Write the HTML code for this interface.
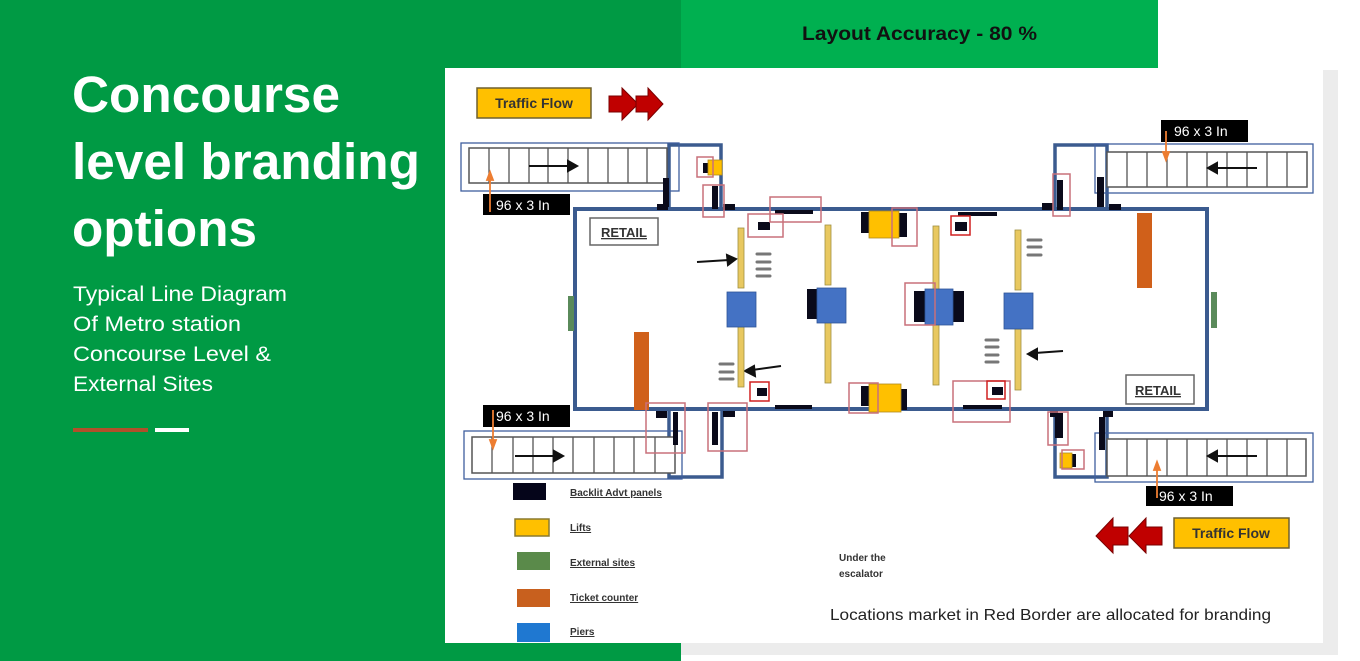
<!DOCTYPE html>
<html><head><meta charset="utf-8"><style>
html,body{margin:0;padding:0;}
body{width:1360px;height:661px;position:relative;overflow:hidden;background:#fff;font-family:"Liberation Sans",Arial,sans-serif;}
</style></head><body>
<svg width="1360" height="661" viewBox="0 0 1360 661" xmlns="http://www.w3.org/2000/svg" style="position:absolute;left:0;top:0">
<rect x="0" y="0" width="681" height="661" fill="#009a44"/>
<rect x="681" y="0" width="477" height="68" fill="#00b050"/>
<rect x="681" y="643" width="657" height="12" fill="#ececec"/>
<rect x="1323" y="70" width="15" height="585" fill="#ececec"/>
<rect x="445" y="68" width="878" height="575" fill="#fff"/>
<text x="802" y="40" textLength="235" lengthAdjust="spacingAndGlyphs" font-family="Liberation Sans,Arial,sans-serif" font-weight="bold" font-size="19" fill="#111">Layout Accuracy - 80 %</text>

<g font-family="Liberation Sans,Arial,sans-serif" fill="#fff">
<text x="72" y="112" font-size="51" font-weight="bold" textLength="268" lengthAdjust="spacingAndGlyphs">Concourse</text>
<text x="72" y="179" font-size="51" font-weight="bold" textLength="348" lengthAdjust="spacingAndGlyphs">level branding</text>
<text x="72" y="246" font-size="51" font-weight="bold" textLength="185" lengthAdjust="spacingAndGlyphs">options</text>
<text x="73" y="301" font-size="21" textLength="214" lengthAdjust="spacingAndGlyphs">Typical Line Diagram</text>
<text x="73" y="331" font-size="21" textLength="168" lengthAdjust="spacingAndGlyphs">Of  Metro station</text>
<text x="73" y="361" font-size="21" textLength="198" lengthAdjust="spacingAndGlyphs">Concourse  Level &amp;</text>
<text x="73" y="391" font-size="21" textLength="140" lengthAdjust="spacingAndGlyphs">External Sites</text>
</g>
<rect x="73" y="428" width="75" height="4" fill="#b0502a"/>
<rect x="155" y="428" width="34" height="4" fill="#fff"/>

<rect x="477" y="88" width="114" height="30" fill="#ffc000" stroke="#6e6030" stroke-width="1.5"/>
<text x="534" y="108" text-anchor="middle" font-size="14" font-weight="bold" fill="#333">Traffic  Flow</text>
<polygon points="609,96 622,96 622,88 638,104 622,120 622,112 609,112" fill="#c00000" stroke="#7a0000" stroke-width="1"/>
<polygon points="636,96 648,96 648,88 663,104 648,120 648,112 636,112" fill="#c00000" stroke="#7a0000" stroke-width="1"/>

<rect x="1174" y="518" width="115" height="30" fill="#ffc000" stroke="#6e6030" stroke-width="1.5"/>
<text x="1231" y="538" text-anchor="middle" font-size="14" font-weight="bold" fill="#333">Traffic  Flow</text>
<polygon points="1162,527 1146,527 1146,518 1129,536 1146,553 1146,545 1162,545" fill="#c00000" stroke="#7a0000" stroke-width="1"/>
<polygon points="1128,527 1113,527 1113,518 1096,536 1113,553 1113,545 1128,545" fill="#c00000" stroke="#7a0000" stroke-width="1"/>

<rect x="575" y="209" width="632" height="200" fill="#fff" stroke="#3b5b8f" stroke-width="4"/>
<g fill="none" stroke="#3b5b8f" stroke-width="3.5">
<polyline points="669,209 669,145 721,145 721,209"/>
<polyline points="1055,209 1055,145 1107,145 1107,209"/>
<polyline points="669,409 669,477 722,477 722,409"/>
<polyline points="1055,409 1055,477 1107,477 1107,409"/>
</g>

<g stroke="#555" stroke-width="1.5" fill="#fff">
<rect x="469" y="148" width="198" height="35"/>
<rect x="1107" y="152" width="200" height="35"/>
<rect x="472" y="437" width="203" height="36"/>
<rect x="1107" y="439" width="199" height="37"/>
</g>
<g stroke="#555" stroke-width="1.3">
<path d="M489 148V183M509 148V183M529 148V183M548 148V183M568 148V183M588 148V183M608 148V183M628 148V183M647 148V183"/>
<path d="M1127 152V187M1147 152V187M1167 152V187M1187 152V187M1207 152V187M1227 152V187M1247 152V187M1267 152V187M1287 152V187"/>
<path d="M492 437V473M513 437V473M533 437V473M553 437V473M573 437V473M594 437V473M614 437V473M634 437V473M655 437V473"/>
<path d="M1127 439V476M1147 439V476M1167 439V476M1187 439V476M1207 439V476M1227 439V476M1247 439V476M1267 439V476M1287 439V476"/>
</g>
<g fill="none" stroke="#3f5f9f" stroke-width="1.3">
<rect x="461" y="143" width="218" height="48"/>
<rect x="1095" y="144" width="218" height="49"/>
<rect x="464" y="431" width="218" height="48"/>
<rect x="1095" y="433" width="218" height="49"/>
</g>
<g stroke="#111" stroke-width="2" fill="#111">
<line x1="529" y1="166" x2="570" y2="166"/><polygon points="577,166 568,161 568,171"/>
<line x1="515" y1="456" x2="556" y2="456"/><polygon points="563,456 554,451 554,461"/>
<line x1="1257" y1="168" x2="1215" y2="168"/><polygon points="1208,168 1217,163 1217,173"/>
<line x1="1257" y1="456" x2="1215" y2="456"/><polygon points="1208,456 1217,451 1217,461"/>
<line x1="697" y1="262" x2="729" y2="260"/><polygon points="736,259 727,255 728,265"/>
<line x1="781" y1="366" x2="752" y2="370"/><polygon points="745,371 754,366 755,376"/>
<line x1="1063" y1="351" x2="1035" y2="353"/><polygon points="1028,354 1037,349 1037,359"/>
</g>

<g font-family="Liberation Sans,Arial,sans-serif" font-size="14" fill="#fff">
<rect x="483" y="194" width="87" height="21" fill="#000"/><text x="496" y="210">96 x 3 In</text>
<rect x="483" y="405" width="87" height="22" fill="#000"/><text x="496" y="421">96 x 3 In</text>
<rect x="1161" y="120" width="87" height="22" fill="#000"/><text x="1174" y="136">96 x 3 In</text>
<rect x="1146" y="486" width="87" height="20" fill="#000"/><text x="1159" y="501">96 x 3 In</text>
</g>
<g stroke="#ed7d31" stroke-width="1.8" fill="#ed7d31">
<line x1="490" y1="212" x2="490" y2="178"/><polygon points="490,172 487,180 493,180"/>
<line x1="493" y1="410" x2="493" y2="442"/><polygon points="493,448 490,440 496,440"/>
<line x1="1166" y1="131" x2="1166" y2="154"/><polygon points="1166,160 1163,152 1169,152"/>
<line x1="1157" y1="498" x2="1157" y2="468"/><polygon points="1157,462 1154,470 1160,470"/>
</g>

<rect x="590" y="218" width="68" height="27" fill="#fff" stroke="#666" stroke-width="1.5"/>
<text x="624" y="237" text-anchor="middle" font-size="13" font-weight="bold" fill="#333" text-decoration="underline">RETAIL</text>
<rect x="1126" y="375" width="68" height="29" fill="#fff" stroke="#666" stroke-width="1.5"/>
<text x="1158" y="395" text-anchor="middle" font-size="13" font-weight="bold" fill="#333" text-decoration="underline">RETAIL</text>

<rect x="634" y="332" width="15" height="78" fill="#d0601a"/>
<rect x="1137" y="213" width="15" height="75" fill="#d0601a"/>
<rect x="568" y="296" width="6" height="35" fill="#5a8a5a"/>
<rect x="1211" y="292" width="6" height="36" fill="#5a8a5a"/>

<g fill="#e8c860" stroke="#a09040" stroke-width="0.8">
<rect x="738" y="228" width="6" height="60"/><rect x="738" y="327" width="6" height="60"/>
<rect x="825" y="225" width="6" height="60"/><rect x="825" y="322" width="6" height="61"/>
<rect x="933" y="226" width="6" height="159"/>
<rect x="1015" y="230" width="6" height="60"/><rect x="1015" y="329" width="6" height="61"/>
</g>
<g fill="#0a0a1a">
<rect x="807" y="289" width="10" height="30"/>
<rect x="914" y="291" width="11" height="31"/><rect x="953" y="291" width="11" height="31"/>
<rect x="861" y="212" width="8" height="21"/><rect x="898" y="213" width="9" height="24"/>
<rect x="861" y="386" width="8" height="20"/><rect x="900" y="389" width="7" height="21"/>
<rect x="775" y="210" width="38" height="4"/><rect x="958" y="212" width="39" height="4"/>
<rect x="775" y="405" width="37" height="4"/><rect x="963" y="405" width="39" height="4"/>
<rect x="758" y="222" width="12" height="8"/><rect x="955" y="222" width="12" height="9"/>
<rect x="757" y="388" width="10" height="8"/><rect x="992" y="387" width="11" height="8"/>
<rect x="663" y="178" width="6" height="29"/><rect x="657" y="204" width="11" height="6"/>
<rect x="712" y="186" width="6" height="23"/><rect x="723" y="204" width="12" height="6"/>
<rect x="703" y="163" width="5" height="10"/>
<rect x="1057" y="180" width="6" height="30"/><rect x="1042" y="203" width="11" height="7"/>
<rect x="1097" y="177" width="7" height="30"/><rect x="1109" y="204" width="12" height="6"/>
<rect x="673" y="412" width="5" height="33"/><rect x="656" y="411" width="11" height="7"/>
<rect x="712" y="412" width="6" height="33"/><rect x="723" y="411" width="12" height="6"/>
<rect x="1055" y="413" width="8" height="25"/><rect x="1050" y="411" width="8" height="6"/>
<rect x="1099" y="417" width="6" height="33"/><rect x="1103" y="411" width="10" height="6"/>
<rect x="1072" y="454" width="4" height="13"/>
</g>
<g fill="#4472c4" stroke="#2f5597" stroke-width="0.8">
<rect x="727" y="292" width="29" height="35"/>
<rect x="817" y="288" width="29" height="35"/>
<rect x="925" y="289" width="28" height="36"/>
<rect x="1004" y="293" width="29" height="36"/>
</g>
<g fill="#ffc000" stroke="#b08a20" stroke-width="0.8">
<rect x="869" y="211" width="30" height="27"/>
<rect x="869" y="384" width="32" height="28"/>
<rect x="708" y="160" width="14" height="15"/>
<rect x="1060" y="453" width="12" height="15"/>
</g>
<g stroke="#777" stroke-width="3" stroke-linecap="round">
<path d="M757 254H770M757 262H770M757 269H770M757 276H770"/>
<path d="M720 364H733M720 372H733M720 379H733"/>
<path d="M986 340H998M986 347H998M986 355H998M986 362H998"/>
<path d="M1028 240H1041M1028 247H1041M1028 255H1041"/>
</g>
<g fill="none" stroke="#c8707a" stroke-width="1.5">
<rect x="703" y="185" width="21" height="32"/>
<rect x="697" y="157" width="16" height="20"/>
<rect x="770" y="197" width="51" height="25"/>
<rect x="748" y="214" width="35" height="23"/>
<rect x="892" y="208" width="25" height="38"/>
<rect x="905" y="283" width="30" height="42"/>
<rect x="849" y="383" width="29" height="30"/>
<rect x="953" y="381" width="57" height="41"/>
<rect x="646" y="403" width="39" height="50"/>
<rect x="708" y="403" width="39" height="48"/>
<rect x="1053" y="174" width="17" height="42"/>
<rect x="1048" y="412" width="20" height="33"/>
<rect x="1062" y="450" width="22" height="19"/>
</g>
<g fill="none" stroke="#d02020" stroke-width="1.5">
<rect x="951" y="216" width="19" height="19"/>
<rect x="750" y="382" width="19" height="19"/>
<rect x="987" y="381" width="18" height="18"/>
</g>

<rect x="513" y="483" width="33" height="17" fill="#05051a"/>
<rect x="515" y="519" width="34" height="17" fill="#ffc000" stroke="#8a7a30" stroke-width="1.5"/>
<rect x="517" y="552" width="33" height="18" fill="#5a8a4a"/>
<rect x="517" y="589" width="33" height="18" fill="#c8601e"/>
<rect x="517" y="623" width="33" height="19" fill="#1f78d1"/>
<g font-size="10" font-weight="bold" fill="#333" text-decoration="underline">
<text x="570" y="496">Backlit Advt panels</text>
<text x="570" y="531">Lifts</text>
<text x="570" y="566">External sites</text>
<text x="570" y="601">Ticket counter</text>
<text x="570" y="635">Piers</text>
</g>
<text x="839" y="561" font-size="10" font-weight="bold" fill="#333">Under the</text>
<text x="839" y="577" font-size="10" font-weight="bold" fill="#333">escalator</text>
<text x="830" y="620" font-size="16" fill="#222" textLength="441" lengthAdjust="spacingAndGlyphs">Locations market in Red Border are allocated for branding</text>
</svg>
</body></html>
